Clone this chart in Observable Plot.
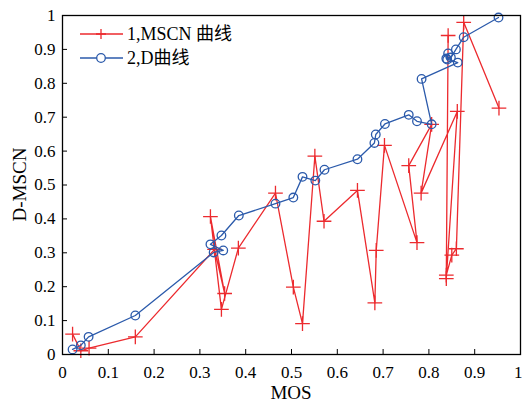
<!DOCTYPE html>
<html><head><meta charset="utf-8">
<script src="https://cdn.jsdelivr.net/npm/d3@7"></script>
<script src="https://cdn.jsdelivr.net/npm/@observablehq/plot@0.6"></script>
<style>
body{margin:0;background:#fff}
#chart{width:522px;height:403px}
</style>
</head><body><div id="chart"></div>
<script>
// Series 1: MSCN curve (order as drawn)
const mosMSCN = [0.022,0.040,0.058,0.159,0.332,0.354,0.323,0.347,0.384,0.465,0.504,0.524,0.551,0.571,0.644,0.682,0.685,0.703,0.774,0.756,0.806,0.783,0.862,0.838,0.842,0.838,0.850,0.860,0.876,0.953];
const valMSCN = [0.060,0.011,0.019,0.052,0.310,0.180,0.407,0.133,0.314,0.476,0.199,0.091,0.585,0.393,0.484,0.152,0.307,0.617,0.330,0.557,0.679,0.476,0.717,0.224,0.941,0.234,0.293,0.312,0.980,0.727];
// Series 2: D curve
const mosD = [0.022,0.040,0.057,0.159,0.330,0.351,0.323,0.347,0.385,0.465,0.504,0.524,0.552,0.572,0.644,0.681,0.684,0.704,0.756,0.774,0.806,0.784,0.863,0.838,0.842,0.840,0.848,0.859,0.876,0.952];
const valD = [0.015,0.027,0.052,0.115,0.301,0.307,0.325,0.351,0.410,0.445,0.463,0.524,0.513,0.545,0.576,0.624,0.649,0.680,0.707,0.688,0.679,0.813,0.861,0.873,0.888,0.870,0.876,0.900,0.936,0.994];

const tickValues = [0,0.1,0.2,0.3,0.4,0.5,0.6,0.7,0.8,0.9,1];
const tickLabels = ["0","0.1","0.2","0.3","0.4","0.5","0.6","0.7","0.8","0.9","1"];
const seriesNames = ["1,MSCN 曲线","2,D曲线"];
const seriesColors = ["#ec2a2e","#2b5aab"];
const xLabel = "MOS";
const yLabel = "D-MSCN";

const dataMSCN = mosMSCN.map((x,i)=>({x, y: valMSCN[i]}));
const dataD = mosD.map((x,i)=>({x, y: valD[i]}));
const fmt = d => tickLabels[tickValues.indexOf(d)];
const FONT = "'Liberation Serif','Times New Roman','Noto Sans CJK SC',serif";
const xTicksMain = tickValues.slice(0, -1);
const xTickLast = tickValues.slice(-1);

const plot = Plot.plot({
  width: 522, height: 403,
  marginLeft: 62, marginRight: 2, marginTop: 15, marginBottom: 49,
  style: {fontFamily: FONT, fontSize: "17px", color: "black", background: "white", overflow: "visible"},
  x: {domain: [0,1]},
  y: {domain: [0,1]},
  marks: [
    Plot.line(dataMSCN, {x: "x", y: "y", stroke: seriesColors[0], strokeWidth: 1.3}),
    Plot.dot(dataMSCN, {x: "x", y: "y", symbol: "plus", r: 4.8, stroke: seriesColors[0], strokeWidth: 1.3}),
    Plot.line(dataD, {x: "x", y: "y", stroke: seriesColors[1], strokeWidth: 1.3}),
    Plot.dot(dataD, {x: "x", y: "y", symbol: "circle", r: 4.3, stroke: seriesColors[1], strokeWidth: 1.3, fill: "none"}),
    Plot.axisX({ticks: xTicksMain, tickFormat: fmt, tickSize: -5, tickPadding: 16, label: null, stroke: "black"}),
    Plot.axisX({ticks: xTickLast, tickFormat: fmt, tickSize: 0, tickPadding: 11, label: null, textAnchor: "end", dx: 2}),
    Plot.axisY({ticks: tickValues, tickFormat: fmt, tickSize: -5, tickPadding: 12, label: null, stroke: "black"}),
    Plot.frame({stroke: "black", strokeWidth: 1.3})
  ]
});
document.getElementById("chart").appendChild(plot);

const svg = d3.select(plot);
// axis titles
svg.append("text").attr("x", 62 + 458/2).attr("y", 399).attr("text-anchor", "middle")
  .attr("font-family", FONT).attr("font-size", 19).attr("fill", "black").text(xLabel);
svg.append("text").attr("transform", `translate(26,${(15+354)/2}) rotate(-90)`).attr("text-anchor", "middle")
  .attr("font-family", FONT).attr("font-size", 19).attr("fill", "black").text(yLabel);

// legend
const lg = svg.append("g").attr("text-anchor", "start");
seriesNames.forEach((name, i) => {
  const yy = 34 + i*24;
  lg.append("line").attr("x1", 80).attr("x2", 123).attr("y1", yy).attr("y2", yy)
    .attr("stroke", seriesColors[i]).attr("stroke-width", 1.3);
  if (i === 0) {
    lg.append("path").attr("d", `M96,${yy}h10M101,${yy-5}v10`).attr("stroke", seriesColors[i]).attr("stroke-width", 1.3);
  } else {
    lg.append("circle").attr("cx", 101).attr("cy", yy).attr("r", 4.3).attr("fill", "white")
      .attr("stroke", seriesColors[i]).attr("stroke-width", 1.3);
  }
  lg.append("text").attr("x", 127).attr("y", yy).attr("dy", "0.35em").attr("text-anchor", "start")
    .attr("font-family", FONT).attr("font-size", 18).attr("fill", "black").text(name);
});
</script>
</body></html>
